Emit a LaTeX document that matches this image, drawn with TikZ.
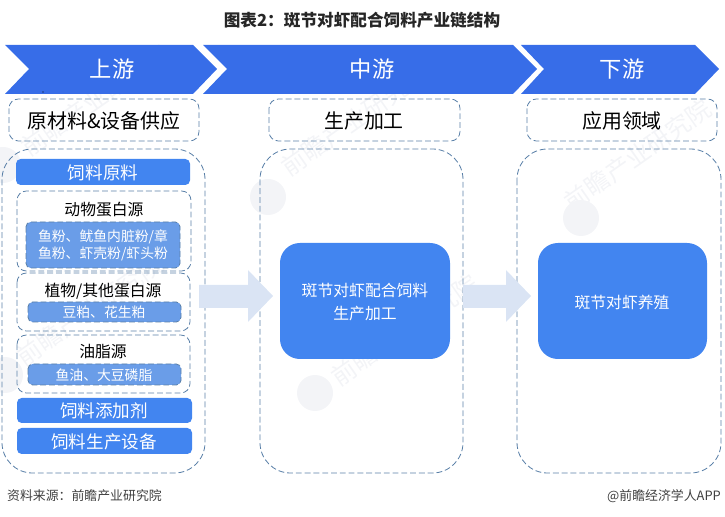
\documentclass[tikz,border=0pt]{standalone}
\usepackage{xcolor}
\usepackage{fontspec}
\setmainfont{Noto Sans CJK SC}
\usepackage{tikz}
\usetikzlibrary{positioning}

\definecolor{chevblue}{HTML}{376DE8}
\definecolor{boxblue}{HTML}{4285F0}
\definecolor{subblue}{HTML}{6A9DE8}
\definecolor{dashblue}{HTML}{5A80A8}
\definecolor{arrowblue}{HTML}{DAE4F4}
\definecolor{markgray}{HTML}{F3F4F7}

\tikzset{
  dashline/.style={draw=dashblue, line width=0.7pt, dash pattern=on 5pt off 2.5pt},
  chev/.style={fill=chevblue, draw=none},
  chevtext/.style={text=white, font=\fontsize{19}{19}\selectfont},
  headbox/.style={dashline, rounded corners=8pt},
  headtext/.style={text=black, font=\fontsize{17}{17}\selectfont},
  panel/.style={dashline, rounded corners=26pt},
  subpanel/.style={dashline, rounded corners=8pt},
  solidbox/.style={fill=boxblue, draw=none, rounded corners=4pt},
  innerbox/.style={fill=subblue, dashline, rounded corners=4pt},
  bigbox/.style={fill=boxblue, draw=none, rounded corners=17pt},
  bigarrow/.style={fill=arrowblue, draw=none},
  whitetext/.style={text=white, font=\fontsize{15}{15}\selectfont},
  smalltext/.style={text=white, font=\fontsize{11.8}{14.5}\selectfont, align=center},
  midtext/.style={text=white, font=\fontsize{13.5}{19}\selectfont, align=center},
  blacktext/.style={text=black, font=\fontsize{13.5}{14}\selectfont},
  footnote/.style={text=black!75, font=\fontsize{11}{11}\selectfont},
  watermark/.style={text=markgray, rotate=35, font=\fontsize{21}{21}\selectfont}
}

\begin{document}
\begin{tikzpicture}[x=0.03cm, y=-0.03cm]
    \useasboundingbox (0,0) rectangle (725,517);

    % watermarks
    \foreach \x/\y/\n in {95/100/a, 355/120/b, 638/155/c, 90/310/d, 405/330/e}
      \node[watermark] (mark\n) at (\x,\y) {前瞻产业研究院};
    \foreach \x/\y in {3/165, 268/197, 581/218, 5/375, 315/393}
      \fill[markgray] (\x,\y) circle (18);

    % title
    \node[text=black!85, font=\fontsize{14.2}{14}\bfseries\selectfont] (title) at (362,20) {图表2：斑节对虾配合饲料产业链结构};

    % chevrons
    \fill[chev] (5,45) -- (193,45) -- (217,69) -- (193,94) -- (5,94) -- (29,69) -- cycle;
    \fill[chev] (203,45) -- (513,45) -- (537,69) -- (513,94) -- (203,94) -- (227,69) -- cycle;
    \fill[chev] (521,45) -- (695,45) -- (719,69) -- (695,94) -- (521,94) -- (544,69) -- cycle;
    \node[chevtext] (up) at (112,69) {上游};
    \node[chevtext] (mid) at (372,69) {中游};
    \node[chevtext] (down) at (622,69) {下游};
    \fill (43,92) circle (0.7);

    % headers
    \draw[headbox] (9,99) rectangle (199,141);
    \draw[headbox] (269,99) rectangle (460,141);
    \draw[headbox] (527,99) rectangle (717,141);
    \node[headtext] (upname) at (104,121) {原材料\&设备供应};
    \node[headtext] (midname) at (364,121) {生产加工};
    \node[headtext] (downname) at (622,121) {应用领域};

    % panels
    \draw[panel] (2,149) rectangle (205,473);
    \draw[panel] (260,149) rectangle (463,473);
    \draw[panel] (517,149) rectangle (721,473);

    % raw materials
    \fill[solidbox] (16,159) rectangle (190,185);
    \node[whitetext] (raw) at (103,173) {饲料原料};

    \draw[subpanel] (17,191) rectangle (191,271);
    \node[blacktext] (animal) at (104,210) {动物蛋白源};
    \draw[innerbox] (26,222) rectangle (180,268);
    \node[smalltext] (animalsub) at (103,245) {鱼粉、鱿鱼内脏粉/章\\鱼粉、虾壳粉/虾头粉};

    \draw[subpanel] (17,273) rectangle (190,331);
    \node[blacktext] (plant) at (103,291) {植物/其他蛋白源};
    \draw[innerbox] (28,302) rectangle (181,322);
    \node[smalltext] (plantsub) at (104,312) {豆粕、花生粕};

    \draw[subpanel] (17,335) rectangle (190,393);
    \node[blacktext] (oil) at (103,352) {油脂源};
    \draw[innerbox] (28,364) rectangle (181,385);
    \node[smalltext] (oilsub) at (104,375) {鱼油、大豆磷脂};

    \fill[solidbox] (17,398) rectangle (192,423);
    \node[whitetext] (additive) at (104,411) {饲料添加剂};
    \fill[solidbox] (17,428) rectangle (192,454);
    \node[whitetext] (equip) at (104,442) {饲料生产设备};

    % big boxes
    \fill[bigbox] (280,243) rectangle (450,359);
    \node[midtext] (process) at (365,302) {斑节对虾配合饲料\\生产加工};
    \fill[bigbox] (538,243) rectangle (707,359);
    \node[midtext] (farm) at (622,302) {斑节对虾养殖};

    % arrows
    \fill[bigarrow] (199,285) -- (248,285) -- (248,270) -- (273,296) -- (248,322) -- (248,308) -- (199,308) -- cycle;
    \fill[bigarrow] (463,285) -- (506,285) -- (506,270) -- (531,296) -- (506,322) -- (506,308) -- (463,308) -- cycle;

    % footer
    \node[footnote, anchor=west] (source) at (3,496) {资料来源：前瞻产业研究院};
    \node[footnote, anchor=east] (brand) at (725,496) {@前瞻经济学人APP};
  \end{tikzpicture}
\end{document}
